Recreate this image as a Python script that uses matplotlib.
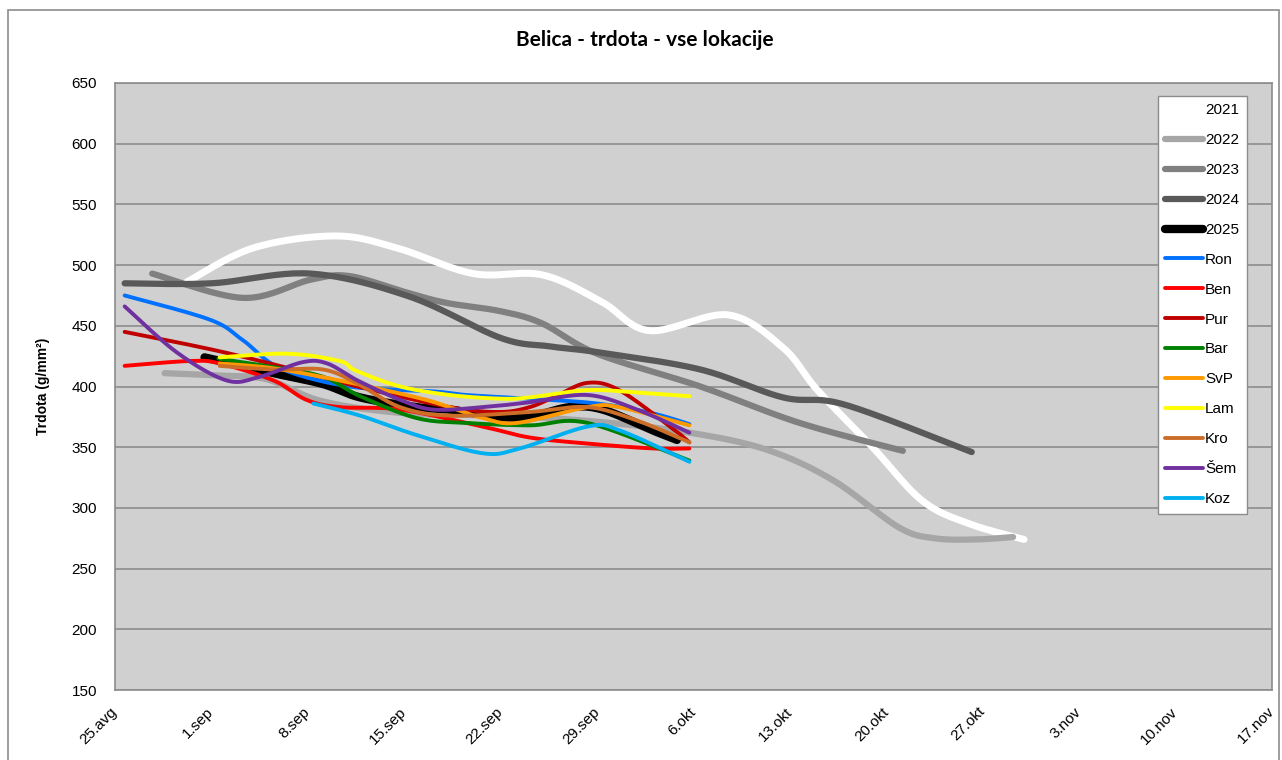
import matplotlib.pyplot as plt
import numpy as np
from matplotlib.patches import Rectangle

plt.rcParams['font.family'] = ['Liberation Sans', 'DejaVu Sans']

# x axis: days since 25.avg, one tick per week
X_TICK_DAYS = [0, 7, 14, 21, 28, 35, 42, 49, 56, 63, 70, 77, 84]
X_TICK_LABELS = ['25.avg', '1.sep', '8.sep', '15.sep', '22.sep', '29.sep', '6.okt',
                 '13.okt', '20.okt', '27.okt', '3.nov', '10.nov', '17.nov']

# season averages
days_2021 = [5.2, 10, 16, 20.5, 26, 31, 35.3, 38.8, 44.5, 48.5, 51, 55, 58.6, 62, 66]
trd_2021 = [486, 514, 524, 514, 493, 492, 470, 446, 459, 432, 397, 350, 306, 287, 274]

days_2022 = [3.6, 7.5, 11, 15, 21, 28, 35, 41.7, 47.3, 52.1, 56.9, 59.5, 62.5, 65.2]
trd_2022 = [411, 409, 406, 388, 378, 376, 371, 362, 348, 323, 284, 275, 274, 276]

days_2023 = [2.7, 9.3, 14.2, 17, 21, 24, 28, 31, 35, 42.5, 49.7, 57.2]
trd_2023 = [493, 473, 488, 491, 478, 469, 462, 452, 427, 400, 370, 347]

days_2024 = [0.7, 7, 14.2, 21.4, 28, 31.6, 35.2, 42.5, 48.5, 53, 62.2]
trd_2024 = [485, 485, 493, 474, 440, 433, 428, 414, 391, 385, 346]

days_2025 = [6.5, 11.5, 15.1, 17.8, 21.9, 24.3, 27.9, 30.1, 33, 35.4, 39, 40.8]
trd_2025 = [424, 411, 402, 391, 383, 381, 375, 375, 383, 381, 364, 356]

# locations 2025
days_ron = [0.7, 6.9, 9.3, 12, 17, 23.1, 25.5, 30, 35, 39, 41.7]
trd_ron = [475, 455, 438, 415, 400, 396, 393, 390, 386, 378, 369]

days_ben = [0.7, 5.4, 7.6, 11.5, 13.9, 16.3, 20.7, 26.7, 30.1, 34.3, 39, 41.7]
trd_ben = [417, 421, 419, 405, 389, 383, 381, 367, 358, 353, 349, 349]

days_pur = [0.7, 7.6, 14, 17.6, 24.3, 27.9, 30.1, 32, 34.3, 36.6, 40.3, 41.7]
trd_pur = [445, 429, 411, 400, 383, 379, 383, 392, 403, 397, 367, 354]

days_bar = [7.5, 11.5, 15.1, 17.8, 21.9, 25.5, 30.1, 34.3, 41.7]
trd_bar = [423, 416, 408, 392, 374, 370, 368, 370, 339]

days_svp = [7.6, 11.5, 16.3, 21.9, 24.3, 26.7, 29.2, 34.3, 36.6, 41.7]
trd_svp = [419, 415, 405, 391, 383, 374, 370, 383, 383, 368]

days_lam = [7.6, 12.5, 16.3, 17.5, 20.7, 24.3, 27.9, 30.1, 34.3, 37.9, 41.7]
trd_lam = [424, 427, 421, 413, 400, 393, 390, 391, 397, 395, 392]

days_kro = [7.6, 11.5, 15.1, 17.5, 20.7, 24.3, 30.1, 34.3, 37.9, 41.7]
trd_kro = [417, 414, 414, 403, 383, 376, 379, 383, 372, 354]

days_sem = [0.7, 4.5, 8.1, 10.5, 13.6, 15.4, 17.6, 20.7, 23.1, 26.7, 30.1, 34.3, 37.9, 41.7]
trd_sem = [466, 428, 405, 408, 420, 419, 405, 389, 381, 383, 387, 393, 381, 362]

days_koz = [14.4, 17.8, 21.9, 26.7, 29.4, 34.3, 36.6, 41.7]
trd_koz = [386, 376, 360, 345, 349, 367, 364, 338]

SERIES = [
    ('2021', days_2021, trd_2021, '#FFFFFF', 5.0),
    ('2022', days_2022, trd_2022, '#A6A6A6', 4.5),
    ('2023', days_2023, trd_2023, '#808080', 4.5),
    ('2024', days_2024, trd_2024, '#595959', 4.5),
    ('2025', days_2025, trd_2025, '#000000', 6.0),
    ('Ron', days_ron, trd_ron, '#0070FF', 2.8),
    ('Ben', days_ben, trd_ben, '#FF0000', 2.8),
    ('Pur', days_pur, trd_pur, '#C00000', 2.8),
    ('Bar', days_bar, trd_bar, '#008000', 2.8),
    ('SvP', days_svp, trd_svp, '#FF9900', 2.8),
    ('Lam', days_lam, trd_lam, '#FFFF00', 2.8),
    ('Kro', days_kro, trd_kro, '#CC6E28', 2.8),
    ('Šem', days_sem, trd_sem, '#7030A0', 2.8),
    ('Koz', days_koz, trd_koz, '#00B0F0', 2.8),
]


def smooth(x, y, n=24):
    """Excel-style smoothed line: Catmull-Rom bezier through the points."""
    p = np.column_stack([x, y]).astype(float)
    ext = np.vstack([p[0], p, p[-1]])
    t = np.linspace(0, 1, n)[:, None]
    out = [p[:1]]
    for i in range(1, len(ext) - 2):
        p0, p3 = ext[i], ext[i + 1]
        c1 = p0 + (ext[i + 1] - ext[i - 1]) / 6
        c2 = p3 - (ext[i + 2] - ext[i]) / 6
        seg = ((1 - t) ** 3) * p0 + 3 * ((1 - t) ** 2) * t * c1 \
            + 3 * (1 - t) * t ** 2 * c2 + t ** 3 * p3
        out.append(seg[1:])
    pts = np.vstack(out)
    return pts[:, 0], pts[:, 1]


W, H = 1282, 760
fig = plt.figure(figsize=(W / 100, H / 100), dpi=100)
ax = fig.add_axes([115 / W, 70 / H, 1157 / W, 607 / H])
ax.set_facecolor('#D0D0D0')

for label, xd, yd, color, lw in SERIES:
    sx, sy = smooth(xd, yd)
    ax.plot(sx, sy, color=color, lw=lw, label=label, solid_capstyle='round')

ax.set_xlim(0, 84)
ax.set_ylim(150, 650)
ax.set_yticks(np.arange(150, 651, 50))
ax.set_xticks(X_TICK_DAYS)
ax.set_xticklabels(X_TICK_LABELS, rotation=45, ha='right', va='center',
                   rotation_mode='anchor', fontsize=11)
ax.tick_params(axis='x', length=0, pad=14)
ax.tick_params(axis='y', length=0, pad=13, labelsize=11)
ax.grid(axis='y', color='#8C8C8C', lw=1.2)
ax.set_axisbelow(True)
for s in ax.spines.values():
    s.set_color('#8C8C8C')
    s.set_linewidth(1.2)

ax.set_ylabel('Trdota (g/mm²)', fontweight='bold', fontsize=10)
ax.yaxis.set_label_coords(-0.056, 0.5)

fig.text(645 / W, 1 - 40 / H, 'Belica - trdota - vse lokacije', family='Lato',
         fontweight='bold', fontsize=15, ha='center', va='center')

leg = ax.legend(loc='upper right', bbox_to_anchor=(0.978, 0.979), fontsize=11,
                fancybox=False, framealpha=1, edgecolor='#8C8C8C',
                labelspacing=1.04, handlelength=2.5, handletextpad=0.1,
                borderpad=0.5, borderaxespad=0)
leg.get_frame().set_linewidth(1.0)

fig.add_artist(Rectangle((8 / W, -0.05), 1271 / W, 1.05 - 10 / H,
                         transform=fig.transFigure, fill=False,
                         edgecolor='#8C8C8C', lw=1.2))

fig.savefig('out.png', dpi=100)
